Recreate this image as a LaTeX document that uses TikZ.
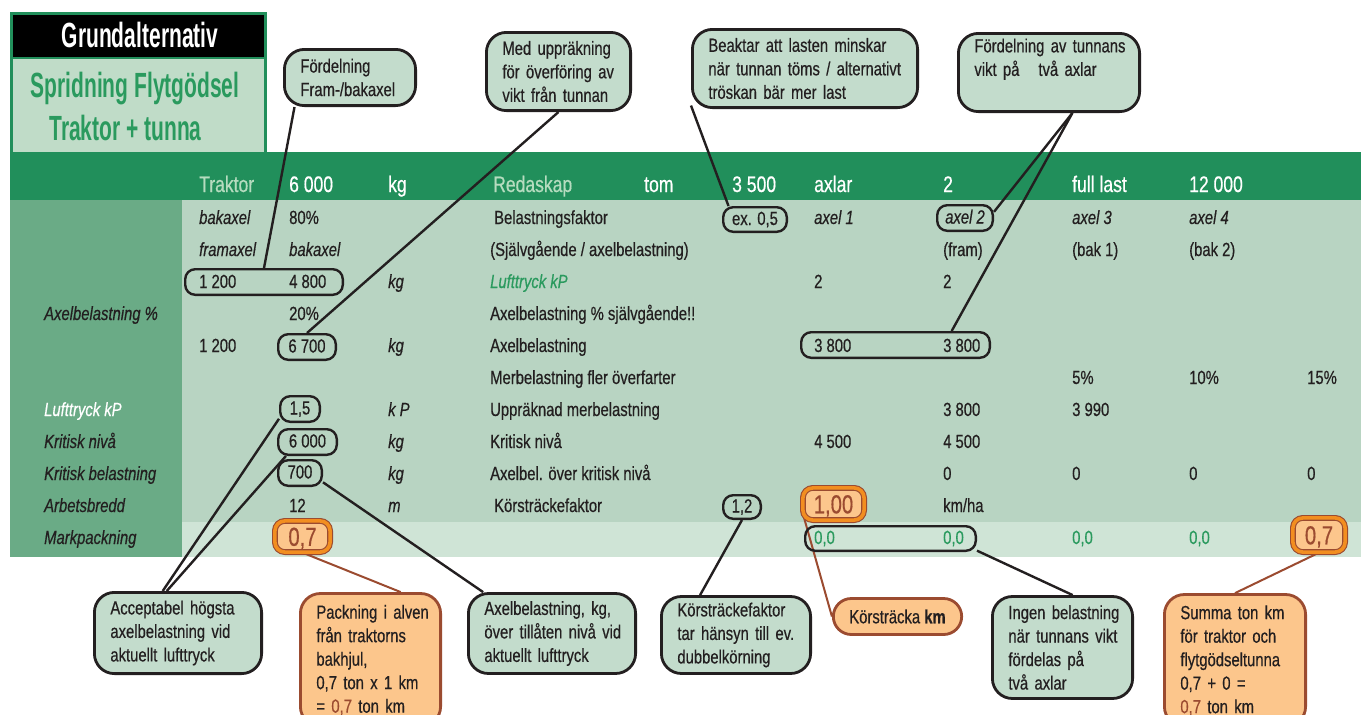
\documentclass[tikz,border=0pt]{standalone}
\usepackage{fontspec}
\setmainfont{Liberation Sans}[FakeStretch=0.78, FakeBold=0.5]
\newfontfamily\titlefont{Liberation Sans}[FakeStretch=0.6]
\usepackage{xcolor}
\usepackage{tikz}
\pgfdeclarelayer{bg}
\pgfdeclarelayer{wires}
\pgfsetlayers{bg,wires,main}
\definecolor{bandgreen}{RGB}{33,143,91}
\definecolor{leftgreen}{RGB}{106,171,134}
\definecolor{bodygreen}{RGB}{184,212,194}
\definecolor{lastgreen}{RGB}{207,228,214}
\definecolor{notefill}{RGB}{195,220,204}
\definecolor{titlefill}{RGB}{192,220,200}
\definecolor{headlight}{RGB}{181,220,191}
\definecolor{valgreen}{RGB}{42,154,94}
\definecolor{ink}{RGB}{35,31,32}
\definecolor{orfill}{RGB}{252,198,140}
\definecolor{orline}{RGB}{242,142,32}
\definecolor{brownline}{RGB}{155,75,48}
\tikzset{
  cell/.style={anchor=base west, inner sep=0pt, text=ink, font=\fontsize{19}{23}\selectfont},
  celli/.style={cell, font=\fontsize{19}{23}\selectfont\itshape},
  head/.style={anchor=base west, inner sep=0pt, text=white, font=\fontsize{22.5}{24}\selectfont},
  ttl/.style={anchor=base, inner sep=0pt, font=\titlefont\bfseries\fontsize{35}{35}\selectfont},
  ring/.style={draw=ink, line width=2.4pt, rounded corners=10pt, inner sep=0pt, text=ink,
    font=\fontsize{19}{23}\selectfont, text height=14pt, text depth=3pt},
  orbox/.style={draw=brownline, line width=1.1pt, double=orline, double distance=3.6pt,
    fill=orfill, rounded corners=10pt, inner sep=0pt, text=brownline,
    font=\fontsize{26}{26}\selectfont, text height=18.6pt, text depth=0pt},
  note/.style={draw=ink, line width=2.8pt, fill=notefill, rounded corners=20pt, align=left,
    inner xsep=16pt, inner ysep=0pt, text=ink, font=\fontsize{19}{23.5}\selectfont,
    execute at begin node={\hyphenpenalty=10000\exhyphenpenalty=10000}},
  ornote/.style={note, draw=brownline, fill=orfill},
  wire/.style={draw=ink, line width=2.4pt},
  brownwire/.style={draw=brownline, line width=2pt}
}

\begin{document}
\begin{tikzpicture}[scale=1.000000,x=1pt,y=1pt]
\useasboundingbox (0.000000,0.000000) rectangle (1361.000000,-715.000000);
% Drawing table background
\begin{pgfonlayer}{bg}
\filldraw[fill=titlefill, draw=bandgreen, line width=3pt] (11.500000,-13.500000) rectangle (265.000000,-154.000000);
\fill[black] (13.000000,-15.000000) rectangle (263.500000,-57.000000);
\draw[bandgreen, line width=2pt] (13.000000,-58.000000) -- (263.500000,-58.000000);
\fill[bandgreen] (10.000000,-152.000000) rectangle (1361.000000,-200.000000);
\fill[leftgreen] (10.000000,-200.000000) rectangle (182.000000,-557.000000);
\fill[bodygreen] (182.000000,-200.000000) rectangle (1361.000000,-522.000000);
\fill[lastgreen] (182.000000,-522.000000) rectangle (1361.000000,-557.000000);
\end{pgfonlayer}
% Title
\node[ttl, text=white] (ttl1) at (140.000000,-47.000000) {Grundalternativ};
\node[ttl, text=valgreen] (ttl2) at (135.000000,-97.000000) {Spridning Flytgödsel};
\node[ttl, text=valgreen] (ttl3) at (125.500000,-140.000000) {Traktor + tunna};
% Header: Traktor 6 000 kg Redaskap tom 3 500 axlar 2 full last 12 000
\node[head, text=headlight] (h1) at (199.000000,-192.000000) {Traktor};
\node[head] (h2) at (289.000000,-192.000000) {6 000};
\node[head] (h3) at (388.000000,-192.000000) {kg};
\node[head, text=headlight] (h4) at (493.000000,-192.000000) {Redaskap};
\node[head] (h5) at (644.000000,-192.000000) {tom};
\node[head] (h6) at (732.000000,-192.000000) {3 500};
\node[head] (h7) at (814.000000,-192.000000) {axlar};
\node[head] (h8) at (943.000000,-192.000000) {2};
\node[head] (h9) at (1072.000000,-192.000000) {full last};
\node[head] (h10) at (1189.000000,-192.000000) {12 000};
% Row 1: bakaxel 80% Belastningsfaktor ex. 0,5 axel 1..4
\node[celli] (r1a) at (199.000000,-224.000000) {bakaxel};
\node[cell] (r1b) at (289.000000,-224.000000) {80\%};
\node[cell] (r1d) at (494.000000,-224.000000) {Belastningsfaktor};
\node[ring, minimum width=63.6pt, minimum height=24.6pt] (hl3) at (755.000000,-219.500000) {ex. 0,5};
\node[celli] (r1e) at (814.000000,-224.000000) {axel 1};
\node[ring, font=\fontsize{19}{23}\selectfont\itshape, minimum width=55.6pt, minimum height=25.6pt] (hl4) at (965.000000,-218.000000) {axel 2};
\node[celli] (r1g) at (1072.000000,-224.000000) {axel 3};
\node[celli] (r1h) at (1189.000000,-224.000000) {axel 4};
% Row 2: framaxel bakaxel (Självgående / axelbelastning)
\node[celli] (r2a) at (199.000000,-256.000000) {framaxel};
\node[celli] (r2b) at (289.000000,-256.000000) {bakaxel};
\node[cell] (r2d) at (490.000000,-256.000000) {(Självgående / axelbelastning)};
\node[cell] (r2f) at (943.000000,-256.000000) {(fram)};
\node[cell] (r2g) at (1072.000000,-256.000000) {(bak 1)};
\node[cell] (r2h) at (1189.000000,-256.000000) {(bak 2)};
% Row 3: 1 200 4 800 kg Lufttryck kP
\node[cell] (r3a) at (199.000000,-288.000000) {1 200};
\node[cell] (r3b) at (289.000000,-288.000000) {4 800};
\node[celli] (r3c) at (388.000000,-288.000000) {kg};
\node[celli, text=valgreen] (r3d) at (490.000000,-288.000000) {Lufttryck kP};
\node[cell] (r3e) at (814.000000,-288.000000) {2};
\node[cell] (r3f) at (943.000000,-288.000000) {2};
\node[ring, minimum width=157.6pt, minimum height=25.6pt] (hl1) at (264.000000,-282.000000) {};
% Row 4: Axelbelastning %
\node[celli] (l4) at (44.000000,-320.000000) {Axelbelastning \%};
\node[cell] (r4b) at (289.000000,-320.000000) {20\%};
\node[cell] (r4d) at (490.000000,-320.000000) {Axelbelastning \% självgående!!};
% Row 5: 1 200 6 700 kg Axelbelastning 3 800 3 800
\node[cell] (r5a) at (199.000000,-352.000000) {1 200};
\node[ring, minimum width=57.6pt, minimum height=25.6pt] (hl2) at (307.000000,-347.000000) {6 700};
\node[celli] (r5c) at (388.000000,-352.000000) {kg};
\node[cell] (r5d) at (490.000000,-352.000000) {Axelbelastning};
\node[cell] (r5e) at (814.000000,-352.000000) {3 800};
\node[cell] (r5f) at (943.000000,-352.000000) {3 800};
\node[ring, minimum width=188.6pt, minimum height=25.6pt] (hl5) at (895.500000,-345.000000) {};
% Row 6: Merbelastning fler överfarter
\node[cell] (r6d) at (490.000000,-384.000000) {Merbelastning fler överfarter};
\node[cell] (r6g) at (1072.000000,-384.000000) {5\%};
\node[cell] (r6h) at (1189.000000,-384.000000) {10\%};
\node[cell] (r6i) at (1307.000000,-384.000000) {15\%};
% Row 7: Lufttryck kP 1,5 k P
\node[celli, text=white] (l7) at (44.000000,-416.000000) {Lufttryck kP};
\node[ring, minimum width=39.6pt, minimum height=25.6pt] (hl6) at (300.000000,-409.000000) {1,5};
\node[celli] (r7c) at (388.000000,-416.000000) {k P};
\node[cell] (r7d) at (490.000000,-416.000000) {Uppräknad merbelastning};
\node[cell] (r7f) at (943.000000,-416.000000) {3 800};
\node[cell] (r7g) at (1072.000000,-416.000000) {3 990};
% Row 8: Kritisk nivå 6 000 kg
\node[celli] (l8) at (44.000000,-448.000000) {Kritisk nivå};
\node[ring, minimum width=58.6pt, minimum height=25.6pt] (hl7) at (307.500000,-442.000000) {6 000};
\node[celli] (r8c) at (388.000000,-448.000000) {kg};
\node[cell] (r8d) at (490.000000,-448.000000) {Kritisk nivå};
\node[cell] (r8e) at (814.000000,-448.000000) {4 500};
\node[cell] (r8f) at (943.000000,-448.000000) {4 500};
% Row 9: Kritisk belastning 700 kg
\node[celli] (l9) at (44.000000,-480.000000) {Kritisk belastning};
\node[ring, minimum width=43.6pt, minimum height=25.6pt] (hl8) at (300.000000,-473.000000) {700};
\node[celli] (r9c) at (388.000000,-480.000000) {kg};
\node[cell] (r9d) at (490.000000,-480.000000) {Axelbel. över kritisk nivå};
\node[cell] (r9f) at (943.000000,-480.000000) {0};
\node[cell] (r9g) at (1072.000000,-480.000000) {0};
\node[cell] (r9h) at (1189.000000,-480.000000) {0};
\node[cell] (r9i) at (1307.000000,-480.000000) {0};
% Row 10: Arbetsbredd 12 m Körsträckefaktor 1,2 1,00 km/ha
\node[celli] (l10) at (44.000000,-512.000000) {Arbetsbredd};
\node[cell] (r10b) at (289.000000,-512.000000) {12};
\node[celli] (r10c) at (388.000000,-512.000000) {m};
\node[cell] (r10d) at (494.000000,-512.000000) {Körsträckefaktor};
\node[ring, minimum width=37.6pt, minimum height=23.6pt] (hl9) at (742.000000,-507.000000) {1,2};
\node[orbox, minimum width=61.2pt, minimum height=32.2pt] (o2) at (833.500000,-504.000000) {1,00};
\node[cell] (r10f) at (943.000000,-512.000000) {km/ha};
% Row 11: Markpackning 0,7 ... 0,7
\node[celli] (l11) at (44.000000,-544.000000) {Markpackning};
\node[orbox, minimum width=55.2pt, minimum height=31.2pt] (o1) at (302.500000,-536.500000) {0,7};
\node[cell, text=valgreen] (r11e) at (814.000000,-544.000000) {0,0};
\node[cell, text=valgreen] (r11f) at (943.000000,-544.000000) {0,0};
\node[cell, text=valgreen] (r11g) at (1072.000000,-544.000000) {0,0};
\node[cell, text=valgreen] (r11h) at (1189.000000,-544.000000) {0,0};
\node[ring, minimum width=170.6pt, minimum height=24.6pt] (hl10) at (890.500000,-538.500000) {};
\node[orbox, minimum width=52.2pt, minimum height=34.2pt] (o3) at (1319.000000,-535.000000) {0,7};
% Done with rows; drawing notes
\node[note, text width=99.2pt, minimum height=56.2pt] (T1) at (350.000000,-77.500000) {Fördelning\\Fram-/bakaxel};
\node[note, text width=112.2pt, minimum height=78.2pt] (T2) at (558.500000,-71.500000) {Med~uppräkning\\för~överföring~av\\vikt~från~tunnan};
\node[note, text width=193.2pt, minimum height=78.2pt] (T3) at (805.000000,-68.500000) {Beaktar~att~lasten~minskar\\när~tunnan~töms~/~alternativt\\tröskan~bär~mer~last};
\node[note, text width=149.2pt, minimum height=78.2pt] (T4) at (1049.000000,-72.500000) {Fördelning~av~tunnans\\vikt~på~~~två~axlar\\\strut};
\node[note, text width=135.2pt, minimum height=81.2pt] (B1) at (178.000000,-633.000000) {Acceptabel~högsta\\axelbelastning~vid\\aktuellt~lufttryck};
\node[ornote, text width=108.2pt, minimum height=133.0pt] (B2) at (370.500000,-660.000000) {Packning~i~alven\\från~traktorns\\bakhjul,\\0,7~ton~x~1~km\\=~{\color{brownline}0,7}~ton~km};
\node[note, text width=135.2pt, minimum height=80.0pt] (B3) at (552.000000,-633.500000) {Axelbelastning,~kg,\\över~tillåten~nivå~vid\\aktuellt~lufttryck};
\node[note, text width=117.2pt, minimum height=77.0pt] (B4) at (736.000000,-635.000000) {Körsträckefaktor\\tar~hänsyn~till~ev.\\dubbelkörning};
\node[ornote, rounded corners=18pt, align=center, minimum width=126.0pt, minimum height=36.0pt] (B5) at (897.500000,-616.500000) {Körsträcka~\textbf{km}};
\node[note, text width=108.2pt, minimum height=102.0pt] (B6) at (1062.500000,-647.500000) {Ingen~belastning\\när~tunnans~vikt\\fördelas~på\\två~axlar};
\node[ornote, text width=109.2pt, minimum height=132.0pt] (B7) at (1235.000000,-660.500000) {Summa~ton~km\\för~traktor~och\\flytgödseltunna\\0,7~+~0~=\\{\color{brownline}0,7}~ton~km};
% Drawing connectors
\begin{pgfonlayer}{wires}
\draw[wire] (T1.208) -- (hl1.north);
\draw[wire] (T2.south) -- (hl2.north);
\draw[wire] (T3.198) -- (hl3.153);
\draw[wire] (T4.300) -- (hl4.12);
\draw[wire] (T4.300) -- (hl5.14);
\draw[wire] (B1.110) -- (hl6.205);
\draw[wire] (B1.105) -- (hl7.213);
\draw[brownwire] (o1.south) -- (B2.66);
\draw[wire] (hl8.338) -- (B3.149);
\draw[wire] (hl9.south) -- (B4.132);
\draw[brownwire] (o2.194) -- (B5.west);
\draw[wire] (hl10.352) -- (B6.79);
\draw[brownwire] (o3.south) -- (B7.north);
\end{pgfonlayer}
% Done with connectors
\end{tikzpicture}
\end{document}
